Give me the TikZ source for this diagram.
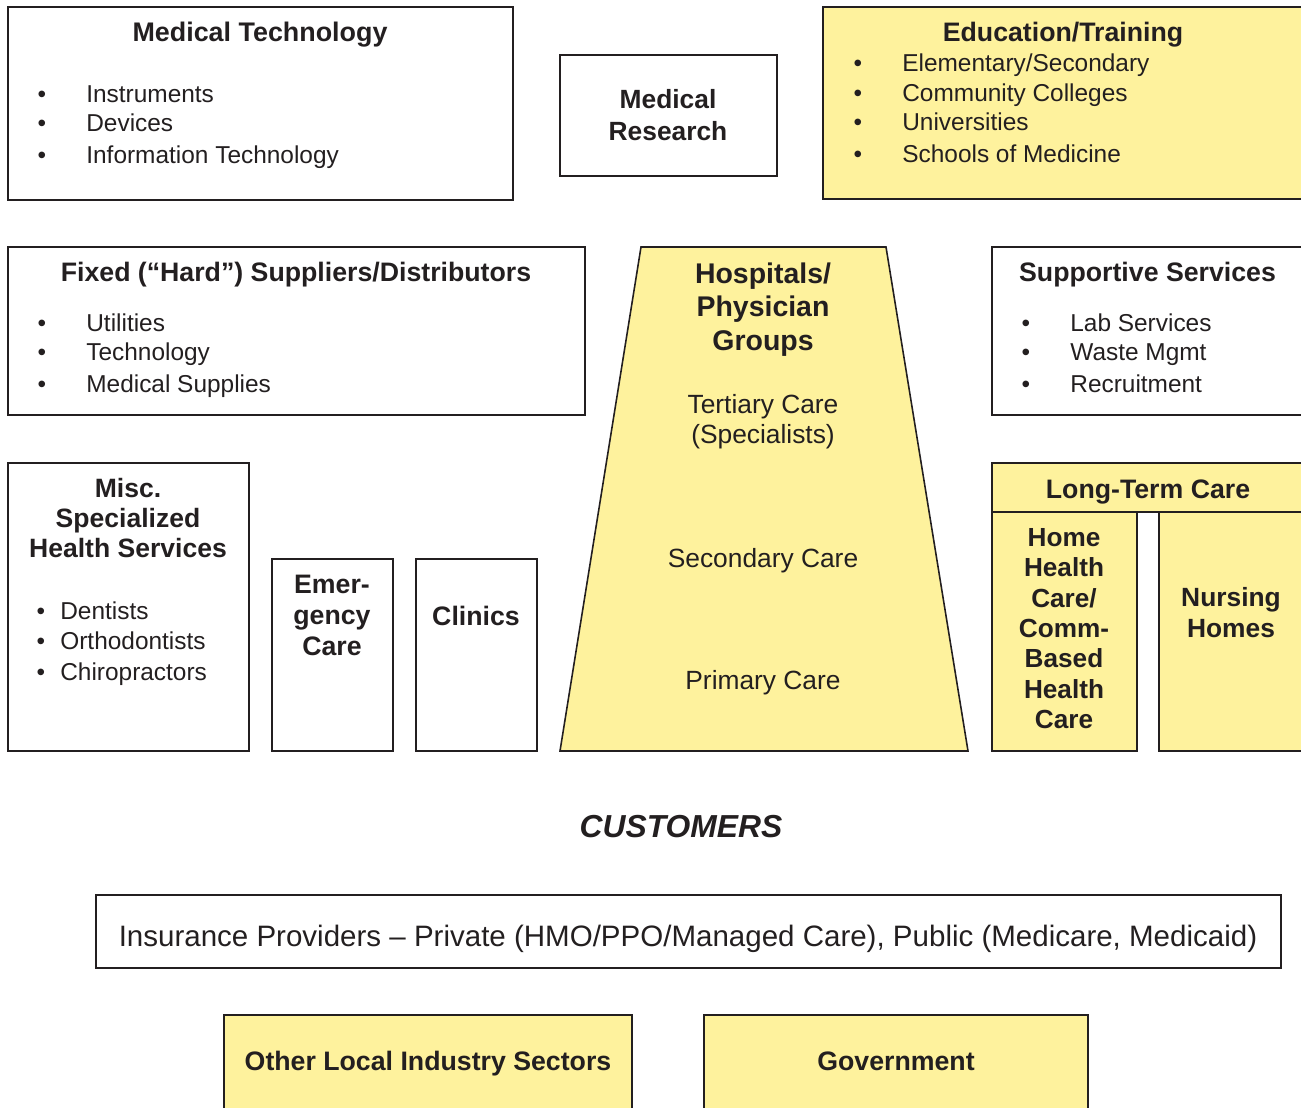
\documentclass[tikz,border=0pt]{standalone}
\usepackage{fontspec}
\setmainfont{Liberation Sans}
\definecolor{pale}{RGB}{254,242,157}
\definecolor{ink}{RGB}{35,31,32}

\begin{document}
\begin{tikzpicture}[x=0.02cm, y=-0.02cm, line join=miter,
    box/.style={draw=ink, line width=0.9pt},
    ybox/.style={box, fill=pale},
    head/.style={font=\fontsize{15.2}{17.3}\selectfont\bfseries, text=ink, inner sep=0pt, align=center, anchor=base},
    item/.style={font=\fontsize{13.9}{16}\selectfont, text=ink, inner sep=0pt, anchor=base west},
    dot/.style={font=\fontsize{13.9}{16}\selectfont, text=ink, inner sep=0pt, anchor=base},
    care/.style={font=\fontsize{15}{17}\selectfont, text=ink, inner sep=0pt, align=center, anchor=base}]

\useasboundingbox (0,0) rectangle (1301,1108);
\clip (0,0) rectangle (1301,1108);

% top row (multi-line nodes sit on the baseline of their last line)
\draw[box] (8,7) rectangle (513,200);
\node[head, font=\fontsize{15.3}{17}\selectfont\bfseries] (medtech) at (260,42) {Medical Technology};
\foreach \yy/\t [count=\i] in {103/Instruments, 132/Devices, 164/{Information Technology}} {
    \node[dot] (mt-b\i) at (42,\yy) {•};
    \node[item] (mt-i\i) at (86,\yy) {\t};
}

\draw[box] (560,55) rectangle (777,176);
\node[head, font=\fontsize{15}{18.2}\selectfont\bfseries] (research) at (668,140.5) {Medical\\Research};

\draw[ybox] (823,7) rectangle (1320,199);
\node[head] (edu) at (1063,42) {Education/Training};
\foreach \yy/\t [count=\i] in {72/{Elementary/Secondary}, 102/{Community Colleges}, 131/Universities, 163/{Schools of Medicine}} {
    \node[dot] (ed-b\i) at (858,\yy) {•};
    \node[item] (ed-i\i) at (902,\yy) {\t};
}

% middle row
\draw[box] (8,247) rectangle (585,415);
\node[head] (fixed) at (296,281.5) {Fixed (“Hard”) Suppliers/Distributors};
\foreach \yy/\t [count=\i] in {331/Utilities, 360/Technology, 392/{Medical Supplies}} {
    \node[dot] (fx-b\i) at (42,\yy) {•};
    \node[item] (fx-i\i) at (86,\yy) {\t};
}

\draw[box] (992,247) rectangle (1320,415);
\node[head] (support) at (1147.5,281.5) {Supportive Services};
\foreach \yy/\t [count=\i] in {331/{Lab Services}, 360/{Waste Mgmt}, 392/Recruitment} {
    \node[dot] (sp-b\i) at (1026,\yy) {•};
    \node[item] (sp-i\i) at (1070,\yy) {\t};
}

% hospitals
\draw[ybox] (641,247) -- (886,247) -- (968,751) -- (560,751) -- cycle;
\node[head, font=\fontsize{16.2}{18.8}\selectfont\bfseries] (hosp) at (763,350) {Hospitals/\\Physician\\Groups};
\node[care] (tertiary) at (763,443) {Tertiary Care\\(Specialists)};
\node[care] (secondary) at (763,567) {Secondary Care};
\node[care] (primary) at (763,689) {Primary Care};

% lower left
\draw[box] (8,463) rectangle (249,751);
\node[head, font=\fontsize{15.1}{16.8}\selectfont\bfseries] (misc) at (128,557) {Misc.\\Specialized\\Health Services};
\foreach \yy/\t [count=\i] in {619/Dentists, 649/Orthodontists, 680/Chiropractors} {
    \node[dot] (ms-b\i) at (41,\yy) {•};
    \node[item] (ms-i\i) at (60,\yy) {\t};
}

\draw[box] (272,559) rectangle (393,751);
\node[head, font=\fontsize{15.2}{17.6}\selectfont\bfseries] (emerg) at (332,655) {Emer-\\gency\\Care};
\draw[box] (416,559) rectangle (537,751);
\node[head] (clinics) at (476,625) {Clinics};

% long-term care
\draw[ybox] (992,463) rectangle (1320,512);
\draw[ybox] (992,512) rectangle (1137,751);
\draw[ybox] (1159,512) rectangle (1320,751);
\node[head] (ltc) at (1148,498) {Long-Term Care};
\node[head, font=\fontsize{14.9}{17.25}\selectfont\bfseries] (home) at (1064,728.5) {Home\\Health\\Care/\\Comm-\\Based\\Health\\Care};
\node[head, font=\fontsize{15}{17.5}\selectfont\bfseries] (nursing) at (1231,637) {Nursing\\Homes};

% customers
\node[head, font=\fontsize{18.1}{20}\selectfont\bfseries\itshape] (cust) at (681,837) {CUSTOMERS};
\draw[box] (96,895) rectangle (1281,968);
\node[care, font=\fontsize{16.8}{19}\selectfont] (insur) at (688,946.5) {Insurance Providers – Private (HMO/PPO/Managed Care), Public (Medicare, Medicaid)};
\draw[ybox] (224,1015) rectangle (632,1130);
\node[head] (other) at (428,1070) {Other Local Industry Sectors};
\draw[ybox] (704,1015) rectangle (1088,1130);
\node[head] (gov) at (896,1070) {Government};
\end{tikzpicture}
\end{document}
